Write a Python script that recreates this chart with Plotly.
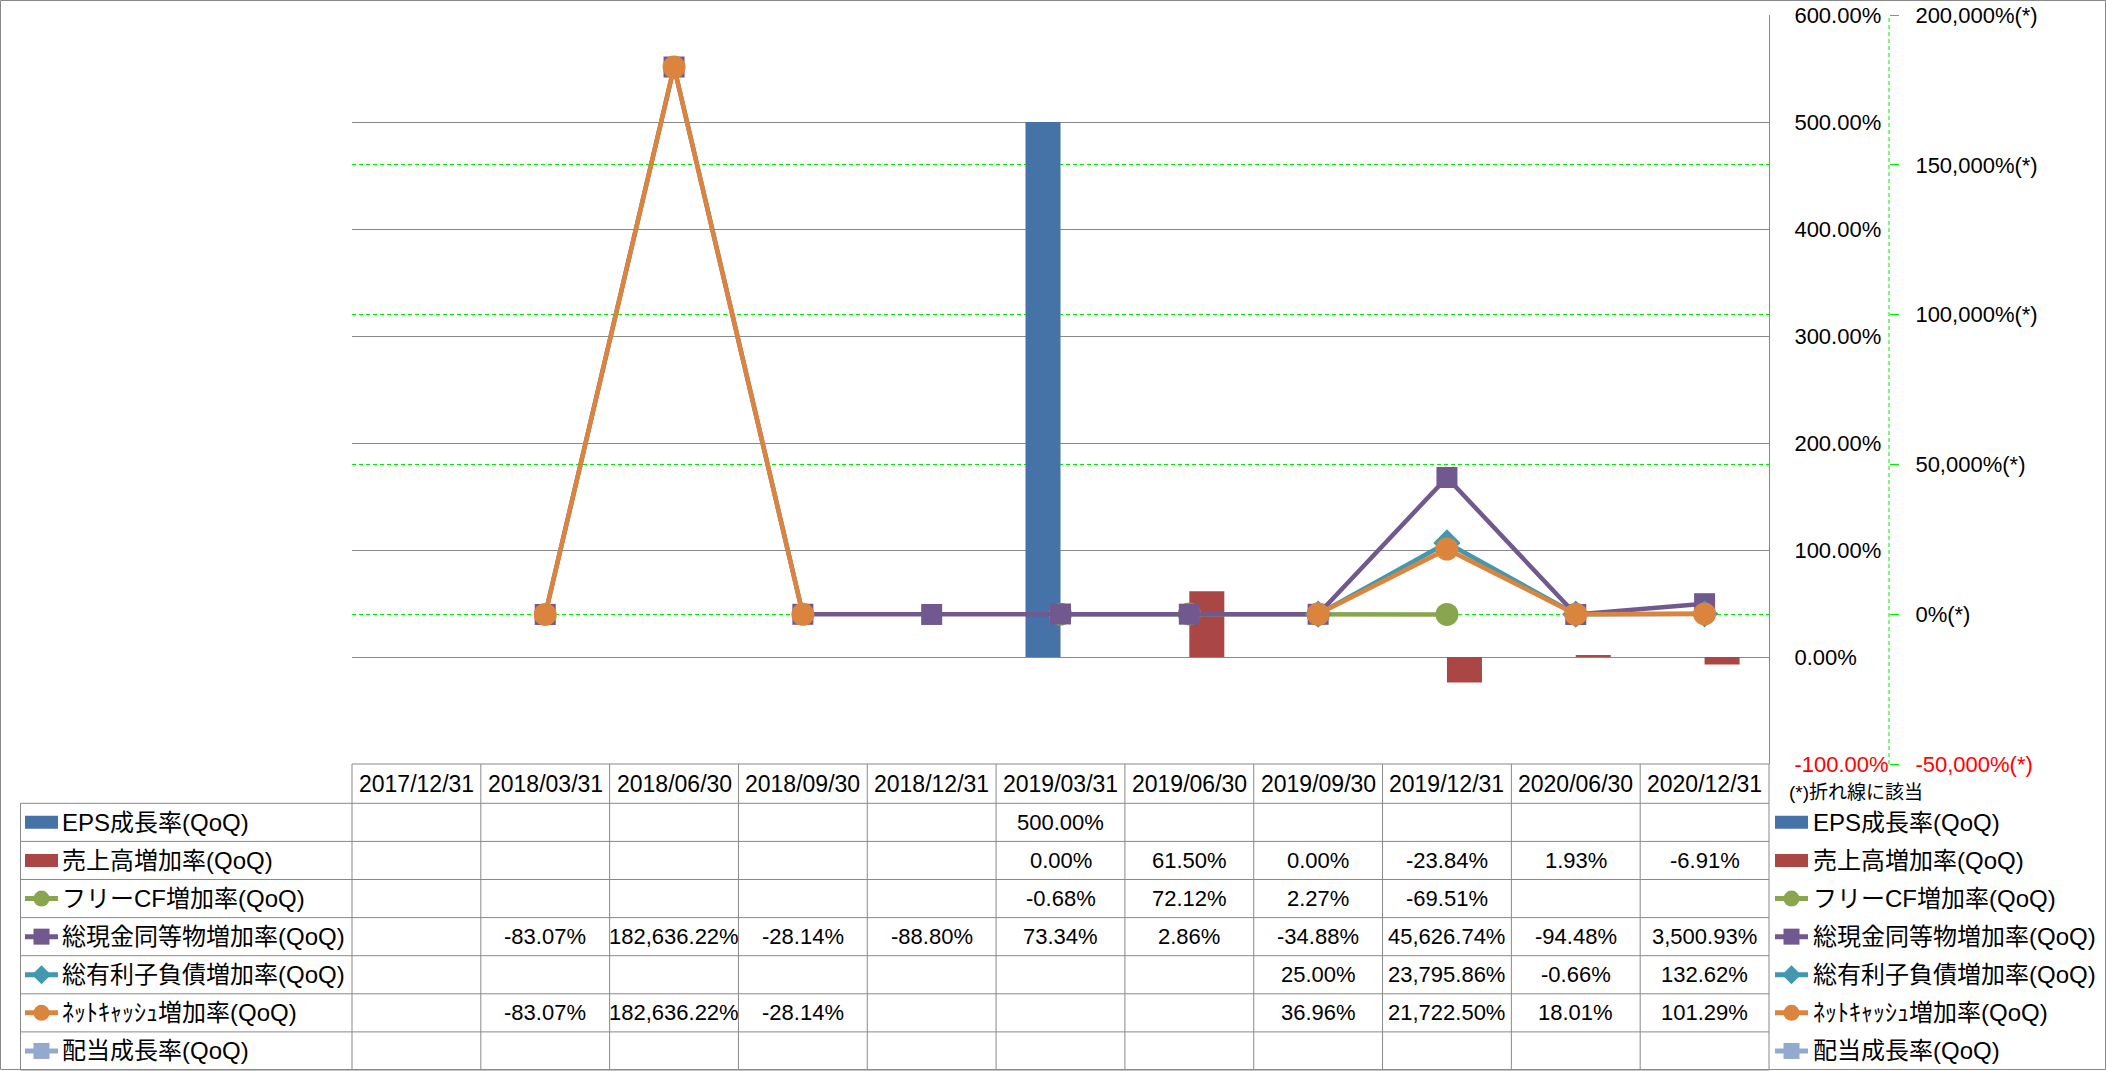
import plotly.graph_objects as go

# ---------------- data ----------------
dates = ["2017/12/31", "2018/03/31", "2018/06/30", "2018/09/30", "2018/12/31",
         "2019/03/31", "2019/06/30", "2019/09/30", "2019/12/31", "2020/06/30", "2020/12/31"]
N = None
eps_growth = [N, N, N, N, N, 500.00, N, N, N, N, N]
sales_growth = [N, N, N, N, N, 0.00, 61.50, 0.00, -23.84, 1.93, -6.91]
fcf_growth = [N, N, N, N, N, -0.68, 72.12, 2.27, -69.51, N, N]
cash_growth = [N, -83.07, 182636.22, -28.14, -88.80, 73.34, 2.86, -34.88, 45626.74, -94.48, 3500.93]
debt_growth = [N, N, N, N, N, N, N, 25.00, 23795.86, -0.66, 132.62]
netcash_growth = [N, -83.07, 182636.22, -28.14, N, N, N, 36.96, 21722.50, 18.01, 101.29]
div_growth = [N, N, N, N, N, N, N, N, N, N, N]

series_names = ["EPS成長率(QoQ)", "売上高増加率(QoQ)", "フリーCF増加率(QoQ)", "総現金同等物増加率(QoQ)",
                "総有利子負債増加率(QoQ)", "ﾈｯﾄｷｬｯｼｭ増加率(QoQ)", "配当成長率(QoQ)"]
y1_ticks = [-100, 0, 100, 200, 300, 400, 500, 600]
y2_ticks = [-50000, 0, 50000, 100000, 150000, 200000]
note_text = "(*)折れ線に該当"

# ---------------- styles ----------------
colors = ["#4572A7", "#AA4643", "#89A54E", "#71588F", "#4198AF", "#DB843D", "#93A9CF"]
kinds = ["bar", "bar", "circle", "square", "diamond", "circle", "square"]
FONT = "Liberation Sans, Arial, Noto Sans CJK JP, sans-serif"
GRID = "#898989"
GREEN = "#00EE00"

W, H = 2106, 1071
PL, PR, PT, PB = 352, 1769, 15, 764


def X(p):
    return (p - PL) / (PR - PL)


def Y(p):
    return (PB - p) / (PB - PT)


all_series = [eps_growth, sales_growth, fcf_growth, cash_growth, debt_growth, netcash_growth, div_growth]

fig = go.Figure()
for i in range(2):
    fig.add_trace(go.Bar(x=dates, y=all_series[i], name=series_names[i], marker=dict(color=colors[i], line=dict(width=0)),
                         yaxis="y", showlegend=False))
for i in range(2, 7):
    fig.add_trace(go.Scatter(x=dates, y=all_series[i], name=series_names[i], mode="lines+markers", yaxis="y2",
                             line=dict(color=colors[i], width=4.5),
                             marker=dict(symbol=kinds[i], size=(21 if kinds[i] != "circle" else 23), color=colors[i]),
                             showlegend=False))


def red(t):
    return "<span style='color:#FF0000'>" + t + "</span>"


y1_text = [f"{v:.2f}%" for v in y1_ticks]
y1_text = [red(t) if v == min(y1_ticks) else t for v, t in zip(y1_ticks, y1_text)]
y2_text = [f"{v:,}%(*)" for v in y2_ticks]
y2_text = [red(t) if v == min(y2_ticks) else t for v, t in zip(y2_ticks, y2_text)]

fig.update_layout(
    width=W, height=H,
    margin=dict(l=PL, r=W - PR, t=PT, b=H - PB, pad=0),
    paper_bgcolor="white", plot_bgcolor="white",
    barmode="group", bargap=0.4565, bargroupgap=0,
    showlegend=False,
    font=dict(family=FONT, size=22, color="black"),
    xaxis=dict(type="category", showticklabels=False, showgrid=False, zeroline=False, showline=False,
               range=[-0.5, len(dates) - 0.5]),
    yaxis=dict(side="right", range=[-100, 600], tickvals=y1_ticks, ticktext=y1_text, showgrid=True,
               gridcolor=GRID, gridwidth=1, zeroline=False, showline=True, linecolor=GRID, linewidth=1,
               ticks="", ticklabelstandoff=20, automargin=False, tickfont=dict(size=22)),
    yaxis2=dict(overlaying="y", side="right", anchor="free", position=1, shift=120,
                range=[-50000, 200000], tickvals=y2_ticks, ticktext=y2_text, showgrid=True,
                gridcolor=GREEN, griddash="4px,3px", gridwidth=1, zeroline=False, showline=False,
                ticks="outside", ticklen=9, tickcolor=GREEN, tickwidth=1, ticklabelstandoff=12,
                automargin=False, tickfont=dict(size=22)),
)

shapes = []
annos = []
# outer border
shapes.append(dict(type="rect", xref="paper", yref="paper", x0=X(0.5), x1=X(W - 0.5), y0=Y(0.5), y1=Y(H - 1.5),
                   line=dict(color=GRID, width=1), fillcolor="rgba(0,0,0,0)", layer="below"))
# secondary axis dashed line
shapes.append(dict(type="line", xref="paper", yref="paper", x0=X(1889), x1=X(1889), y0=0, y1=1,
                   line=dict(color=GREEN, width=1, dash="4px,3px")))

# table geometry
ncol = len(dates)
colw = (PR - PL) / ncol
hdr_top, hdr_bot = PB, 803.3
row_h = 38.1
nrows = len(series_names)
tbl_bot = hdr_bot + row_h * nrows
TL = 20.5

# horizontal lines
shapes.append(dict(type="line", xref="paper", yref="paper", x0=X(PL), x1=X(PR), y0=Y(hdr_top), y1=Y(hdr_top),
                   line=dict(color=GRID, width=1)))
for r in range(nrows + 1):
    yy = hdr_bot + row_h * r
    shapes.append(dict(type="line", xref="paper", yref="paper", x0=X(TL), x1=X(PR), y0=Y(yy), y1=Y(yy),
                       line=dict(color=GRID, width=1)))
# vertical lines
for c in range(ncol + 1):
    xx = PL + colw * c
    shapes.append(dict(type="line", xref="paper", yref="paper", x0=X(xx), x1=X(xx), y0=Y(hdr_top), y1=Y(tbl_bot),
                       line=dict(color=GRID, width=1)))
shapes.append(dict(type="line", xref="paper", yref="paper", x0=X(TL), x1=X(TL), y0=Y(hdr_bot), y1=Y(tbl_bot),
                   line=dict(color=GRID, width=1)))

# header dates
for c, d in enumerate(dates):
    annos.append(dict(x=X(PL + colw * (c + 0.5)), y=Y((hdr_top + hdr_bot) / 2), xref="paper", yref="paper",
                      text=d, showarrow=False, xanchor="center", yanchor="middle", font=dict(size=23)))

# cell values
for r, ser in enumerate(all_series):
    yc = hdr_bot + row_h * (r + 0.5)
    for c, v in enumerate(ser):
        if v is None:
            continue
        annos.append(dict(x=X(PL + colw * (c + 0.5)), y=Y(yc), xref="paper", yref="paper",
                          text=f"{v:,.2f}%", showarrow=False, xanchor="center", yanchor="middle",
                          font=dict(size=22)))


def legend_item(x0, x1, tx, yc, k):
    col = colors[k]
    kind = kinds[k]
    if kind == "bar":
        shapes.append(dict(type="rect", xref="paper", yref="paper", x0=X(x0), x1=X(x1), y0=Y(yc + 6.5),
                           y1=Y(yc - 6.5), fillcolor=col, line=dict(width=0)))
    else:
        shapes.append(dict(type="line", xref="paper", yref="paper", x0=X(x0), x1=X(x1), y0=Y(yc), y1=Y(yc),
                           line=dict(color=col, width=5)))
        cx = (x0 + x1) / 2
        s = 8
        if kind == "circle":
            shapes.append(dict(type="circle", xref="paper", yref="paper", x0=X(cx - s), x1=X(cx + s),
                               y0=Y(yc + s), y1=Y(yc - s), fillcolor=col, line=dict(width=0)))
        elif kind == "square":
            shapes.append(dict(type="rect", xref="paper", yref="paper", x0=X(cx - s), x1=X(cx + s),
                               y0=Y(yc + s), y1=Y(yc - s), fillcolor=col, line=dict(width=0)))
        else:
            d = 9.5
            path = (f"M {X(cx)},{Y(yc - d)} L {X(cx + d)},{Y(yc)} L {X(cx)},{Y(yc + d)} "
                    f"L {X(cx - d)},{Y(yc)} Z")
            shapes.append(dict(type="path", xref="paper", yref="paper", path=path, fillcolor=col,
                               line=dict(width=0)))
    annos.append(dict(x=X(tx), y=Y(yc), xref="paper", yref="paper", text=series_names[k], showarrow=False,
                      xanchor="left", yanchor="middle", font=dict(size=24)))


for k in range(nrows):
    yc = hdr_bot + row_h * (k + 0.5)
    legend_item(25, 58, 60, yc, k)
    legend_item(1775, 1808, 1811, yc, k)

annos.append(dict(x=X(1787), y=Y(792), xref="paper", yref="paper", text=note_text, showarrow=False,
                  xanchor="left", yanchor="middle", font=dict(size=19)))

fig.update_layout(shapes=shapes, annotations=annos)

fig.write_html("out.html", config={"displayModeBar": False},
               post_script="document.body.style.margin='0';document.body.style.overflow='hidden';")
